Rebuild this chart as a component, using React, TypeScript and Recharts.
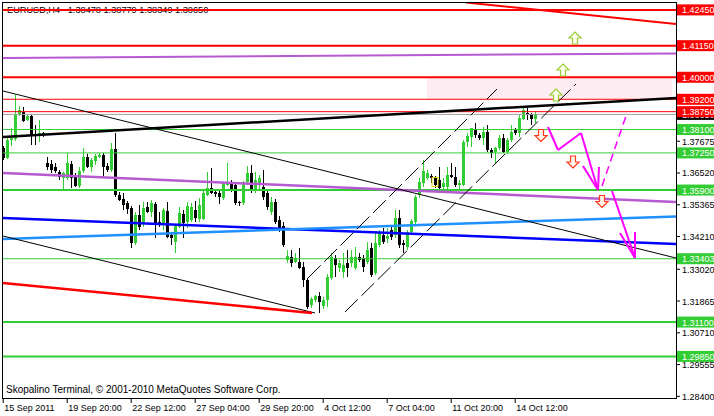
import { ComposedChart, Bar, XAxis, YAxis, ReferenceLine, ReferenceArea, ReferenceDot } from 'recharts';

// EURUSD H4 bars, index 0 = 15 Sep 2011 00:00
const opens = [
  1.3743, 1.3707, 1.3772, 1.3776, 1.3866, 1.3874, 1.3845, 1.3859, 1.3794, 1.3786,
  1.3797, 1.3688, 1.3685, 1.3674, 1.3656, 1.3634, 1.3634, 1.3685, 1.3637, 1.3605,
  1.3659, 1.3710, 1.3674, 1.3696, 1.3710, 1.3717, 1.3677, 1.3663, 1.3739, 1.3572,
  1.3558, 1.3543, 1.3525, 1.3397, 1.3499, 1.3474, 1.3528, 1.3510, 1.3539, 1.3474,
  1.3470, 1.3514, 1.3427, 1.3401, 1.3456, 1.3503, 1.3474, 1.3481, 1.3517, 1.3485,
  1.3485, 1.3572, 1.3597, 1.3583, 1.3579, 1.3561, 1.3608, 1.3619, 1.3608, 1.3547,
  1.3543, 1.3619, 1.3652, 1.3590, 1.3616, 1.3601, 1.3579, 1.3510, 1.3547, 1.3481,
  1.3459, 1.3336, 1.3347, 1.3328, 1.3328, 1.3310, 1.3263, 1.3172, 1.3190, 1.3205,
  1.3168, 1.3190, 1.3270, 1.3343, 1.3307, 1.3292, 1.3325, 1.3325, 1.3307, 1.3347,
  1.3343, 1.3328, 1.3379, 1.3288, 1.3390, 1.3427, 1.3412, 1.3445, 1.3427, 1.3488,
  1.3397, 1.3383, 1.3437, 1.3474, 1.3572, 1.3616, 1.3634, 1.3641, 1.3634, 1.3626,
  1.3601, 1.3601, 1.3645, 1.3637, 1.3608, 1.3608, 1.3765, 1.3783, 1.3812, 1.3790,
  1.3779, 1.3801, 1.3736, 1.3728, 1.3743, 1.3779, 1.3728, 1.3772, 1.3808, 1.3797,
  1.3848, 1.3870, 1.3866, 1.38478,
];
const highs = [
  1.3750, 1.3783, 1.3816, 1.3936, 1.3895, 1.3892, 1.3863, 1.3863, 1.3826, 1.3845,
  1.3801, 1.3710, 1.3699, 1.3688, 1.3663, 1.3656, 1.3725, 1.3696, 1.3652, 1.3674,
  1.3743, 1.3721, 1.3707, 1.3721, 1.3725, 1.3725, 1.3688, 1.3761, 1.3797, 1.3583,
  1.3579, 1.3550, 1.3532, 1.3510, 1.3536, 1.3547, 1.3547, 1.3554, 1.3547, 1.3510,
  1.3525, 1.3547, 1.3437, 1.3467, 1.3528, 1.3517, 1.3547, 1.3543, 1.3550, 1.3561,
  1.3590, 1.3656, 1.3670, 1.3590, 1.3594, 1.3619, 1.3688, 1.3626, 1.3619, 1.3550,
  1.3623, 1.3677, 1.3681, 1.3656, 1.3645, 1.3663, 1.3590, 1.3565, 1.3558, 1.3496,
  1.3474, 1.3372, 1.3372, 1.3361, 1.3379, 1.3328, 1.3270, 1.3201, 1.3208, 1.3219,
  1.3201, 1.3285, 1.3361, 1.3354, 1.3336, 1.3361, 1.3372, 1.3372, 1.3383, 1.3361,
  1.3354, 1.3401, 1.3397, 1.3434, 1.3445, 1.3452, 1.3452, 1.3459, 1.3517, 1.3517,
  1.3408, 1.3445, 1.3485, 1.3572, 1.3634, 1.3699, 1.3663, 1.3648, 1.3641, 1.3674,
  1.3634, 1.3674, 1.3688, 1.3674, 1.3626, 1.3772, 1.3797, 1.3816, 1.3834, 1.3797,
  1.3819, 1.3826, 1.3743, 1.3746, 1.3790, 1.3794, 1.3779, 1.3826, 1.3816, 1.3863,
  1.3892, 1.3888, 1.3870, 1.38779,
];
const lows = [
  1.3699, 1.3703, 1.3750, 1.3768, 1.3859, 1.3837, 1.3841, 1.3754, 1.3754, 1.3765,
  1.3783, 1.3663, 1.3652, 1.3652, 1.3626, 1.3587, 1.3626, 1.3597, 1.3601, 1.3597,
  1.3652, 1.3670, 1.3656, 1.3681, 1.3707, 1.3634, 1.3656, 1.3656, 1.3565, 1.3550,
  1.3517, 1.3503, 1.3379, 1.3390, 1.3445, 1.3456, 1.3507, 1.3492, 1.3416, 1.3456,
  1.3445, 1.3416, 1.3390, 1.3361, 1.3452, 1.3416, 1.3452, 1.3474, 1.3474, 1.3474,
  1.3481, 1.3568, 1.3576, 1.3565, 1.3539, 1.3554, 1.3605, 1.3583, 1.3536, 1.3532,
  1.3536, 1.3608, 1.3579, 1.3579, 1.3590, 1.3554, 1.3517, 1.3499, 1.3467, 1.3437,
  1.3383, 1.3325, 1.3310, 1.3325, 1.3303, 1.3237, 1.3157, 1.3161, 1.3183, 1.3143,
  1.3157, 1.3165, 1.3263, 1.3274, 1.3292, 1.3270, 1.3274, 1.3310, 1.3299, 1.3328,
  1.3292, 1.3321, 1.3274, 1.3281, 1.3383, 1.3394, 1.3397, 1.3408, 1.3416, 1.3379,
  1.3361, 1.3372, 1.3430, 1.3467, 1.3561, 1.3601, 1.3626, 1.3616, 1.3597, 1.3590,
  1.3590, 1.3590, 1.3634, 1.3601, 1.3590, 1.3605, 1.3746, 1.3746, 1.3779, 1.3772,
  1.3754, 1.3728, 1.3707, 1.3688, 1.3736, 1.3725, 1.3721, 1.3765, 1.3790, 1.3783,
  1.3845, 1.3845, 1.3826, 1.38349,
];
const closes = [
  1.3707, 1.3772, 1.3779, 1.3866, 1.3881, 1.3841, 1.3859, 1.3790, 1.3790, 1.3797,
  1.3790, 1.3674, 1.3663, 1.3659, 1.3637, 1.3652, 1.3688, 1.3634, 1.3605, 1.3659,
  1.3710, 1.3674, 1.3699, 1.3714, 1.3717, 1.3674, 1.3663, 1.3739, 1.3572, 1.3554,
  1.3536, 1.3521, 1.3397, 1.3499, 1.3456, 1.3525, 1.3510, 1.3543, 1.3470, 1.3470,
  1.3517, 1.3419, 1.3416, 1.3459, 1.3507, 1.3470, 1.3532, 1.3528, 1.3488, 1.3536,
  1.3579, 1.3597, 1.3579, 1.3576, 1.3565, 1.3616, 1.3619, 1.3590, 1.3543, 1.3543,
  1.3619, 1.3652, 1.3590, 1.3626, 1.3634, 1.3565, 1.3528, 1.3547, 1.3474, 1.3445,
  1.3390, 1.3350, 1.3325, 1.3343, 1.3307, 1.3263, 1.3165, 1.3194, 1.3205, 1.3183,
  1.3190, 1.3274, 1.3347, 1.3317, 1.3325, 1.3317, 1.3307, 1.3347, 1.3347, 1.3336,
  1.3310, 1.3372, 1.3281, 1.3397, 1.3434, 1.3401, 1.3423, 1.3419, 1.3488, 1.3390,
  1.3390, 1.3437, 1.3477, 1.3565, 1.3619, 1.3659, 1.3652, 1.3634, 1.3608, 1.3597,
  1.3616, 1.3645, 1.3637, 1.3608, 1.3616, 1.3765, 1.3786, 1.3816, 1.3790, 1.3779,
  1.3801, 1.3736, 1.3725, 1.3743, 1.3779, 1.3728, 1.3772, 1.3801, 1.3797, 1.3852,
  1.3881, 1.3863, 1.3848, 1.3865,
];

const timeTicks = [0, 16, 32, 48, 64, 80, 96, 112, 128];
const timeLabels = ['15 Sep 2011', '19 Sep 20:00', '22 Sep 12:00', '27 Sep 04:00', '29 Sep 20:00', '4 Oct 12:00', '7 Oct 04:00', '11 Oct 20:00', '14 Oct 12:00'];

const priceTicks = [1.284, 1.29555, 1.3071, 1.31865, 1.3302, 1.3421, 1.35365, 1.3652, 1.37675];
const bidPrice = 1.3865;
const redMajor = [1.4245, 1.4115, 1.4];
const redMinor = [1.392, 1.3875];
const greenMajor = [1.359, 1.311, 1.2985];
const greenMinor = [1.381, 1.3725, 1.33403];

// drawn objects, as [bar index, price] points
const fallingRed = [[115.7, 1.42719], [168.2, 1.41937]];
const maTop = [[-0.05, 1.40701], [168.2, 1.40865]];
const mainTrend = [[-0.05, 1.37829], [168.2, 1.39247]];
const longDown = [[-0.05, 1.39501], [168.2, 1.33429]];
const lowerDown = [[-0.05, 1.34229], [77.95, 1.31429]];
const redLow = [[-0.05, 1.3252], [77.2, 1.31429]];
const maMid = [[-0.05, 1.3652], [168.2, 1.35465]];
const maBlue = [[-0.05, 1.34884], [168.2, 1.33938]];
const maLightBlue = [[-0.05, 1.3412], [168.2, 1.34938]];
const channelUpper = [[76.2, 1.32702], [123.45, 1.39574]];
const channelLower = [[85.45, 1.31466], [143.2, 1.39756]];
const forecastLeg1 = [[136.2, 1.38192], [138.7, 1.37356], [144.45, 1.37974], [148.7, 1.35902]];
const forecastHead1 = [[144.95, 1.36774], [148.7, 1.35902], [148.95, 1.36738]];
const forecastLeg2 = [[152.2, 1.35865], [157.95, 1.33429]];
const forecastHead2 = [[154.2, 1.34338], [157.95, 1.33429], [157.95, 1.34374]];
const forecastAlt = [[149.7, 1.36047], [155.95, 1.38701]];
const buyArrows = [[142.95, 1.41428], [139.95, 1.40265], [138.2, 1.39356]];
const sellArrows = [[134.45, 1.37883], [142.45, 1.3692], [149.7, 1.35483]];
const entryMark = [[107.95, 1.36193]];
const zoneBars = [105.95, 167.2];
const zonePrices = [1.392, 1.4];

const candles = opens.map((open, i) => ({ i, open, high: highs[i], low: lows[i], close: closes[i] }));

const FONT = '"Liberation Sans", Arial, sans-serif';
const GREEN = '#32cd32';

function Candle(props: any) {
  const { x, y, width, height, payload } = props;
  const { open, close, high, low } = payload;
  const cx = Math.round(x + width / 2) + 0.5;
  const span = high - low || 1e-9;
  const py = (p: number) => y + ((high - p) / span) * height;
  const color = close >= open ? GREEN : '#000';
  const top = py(Math.max(open, close));
  const bot = py(Math.min(open, close));
  return (
    <g shapeRendering="crispEdges">
      <line x1={cx} x2={cx} y1={y} y2={y + height} stroke={color} />
      <rect x={cx - 1.5} y={top} width={3} height={Math.max(1, bot - top)} fill={color} />
    </g>
  );
}

function TimeTick({ x, y, payload }: any) {
  const label = timeLabels[timeTicks.indexOf(payload.value)];
  return (
    <g>
      <line x1={x} x2={x} y1={y} y2={y + 5} stroke="#000" />
      <text x={x + 1} y={y + 13} fontSize={9} fontFamily={FONT} fill="#000">{label}</text>
    </g>
  );
}

function PriceTick({ x, y, payload }: any) {
  const v = payload.value;
  let bg: string | null = null;
  if (redMajor.includes(v) || redMinor.includes(v)) bg = '#ff0000';
  else if (greenMajor.includes(v) || greenMinor.includes(v)) bg = GREEN;
  else if (v === bidPrice) bg = '#000';
  const label = v.toFixed(5);
  if (bg) {
    return (
      <g>
        <rect x={x + 1} y={y - 5.5} width={40} height={11} fill={bg} />
        <text x={x + 6} y={y + 3.5} fontSize={9} fontFamily={FONT} fill="#fff">{label}</text>
      </g>
    );
  }
  return (
    <g>
      <line x1={x} x2={x + 4} y1={y} y2={y} stroke="#000" />
      <text x={x + 6} y={y + 3.5} fontSize={9} fontFamily={FONT} fill="#000">{label}</text>
    </g>
  );
}

function UpArrow({ cx, cy }: any) {
  const d = `M${cx},${cy - 6} L${cx + 6},${cy} L${cx + 2.5},${cy} L${cx + 2.5},${cy + 6} L${cx - 2.5},${cy + 6} L${cx - 2.5},${cy} L${cx - 6},${cy} Z`;
  return <path d={d} fill="#fffff0" stroke="#9acd32" strokeWidth={1.2} />;
}

function DownArrow({ cx, cy }: any) {
  const d = `M${cx},${cy + 6} L${cx + 6},${cy} L${cx + 2.5},${cy} L${cx + 2.5},${cy - 6} L${cx - 2.5},${cy - 6} L${cx - 2.5},${cy} L${cx - 6},${cy} Z`;
  return <path d={d} fill="#fff4ec" stroke="#ff3a1a" strokeWidth={1.2} />;
}

function EntryBox({ cx, cy }: any) {
  return <rect x={cx - 3} y={cy - 4.5} width={6} height={9} fill="none" stroke="#e0d000" strokeWidth={1} />;
}

// consecutive segments through the axis scales
function segs(points: number[][], key: string, stroke: string, width: number, dash?: string) {
  const out = [];
  for (let k = 1; k < points.length; k++) {
    out.push(
      <ReferenceLine
        key={`${key}-${k}`}
        segment={[{ x: points[k - 1][0], y: points[k - 1][1] }, { x: points[k][0], y: points[k][1] }]}
        stroke={stroke}
        strokeWidth={width}
        strokeDasharray={dash}
        ifOverflow="hidden"
      />
    );
  }
  return out;
}

function levels(values: number[], key: string, stroke: string, width: number) {
  return values.map((v) => <ReferenceLine key={`${key}-${v}`} y={v} stroke={stroke} strokeWidth={width} ifOverflow="hidden" />);
}

export default function App() {
  return (
    <div style={{ position: 'absolute', left: 0, top: 0, width: 714, height: 416, background: '#fff', overflow: 'hidden' }}>
      <div style={{ position: 'absolute', left: 7, top: 5, fontSize: 9.2, lineHeight: '10px', fontFamily: FONT, whiteSpace: 'pre', color: '#000' }}>
        {'EURUSD,H4   1.38478 1.38779 1.38349 1.38650'}
      </div>
      <div style={{ position: 'absolute', left: 6, top: 385, fontSize: 10, lineHeight: '10px', fontFamily: FONT, whiteSpace: 'pre', color: '#000' }}>
        {'Skopalino Terminal, © 2001-2010 MetaQuotes Software Corp.'}
      </div>
      <div style={{ position: 'absolute', left: 0, top: 0 }}>
        <ComposedChart width={714} height={416} data={candles} margin={{ top: 2, right: 0, bottom: 0, left: 3 }}>
          <XAxis
            dataKey="i"
            type="number"
            domain={[-0.05, 168.2]}
            allowDataOverflow
            ticks={timeTicks}
            interval={0}
            tick={<TimeTick />}
            tickSize={0}
            tickMargin={0}
            axisLine={false}
            height={18}
          />
          <YAxis
            orientation="right"
            type="number"
            domain={[1.28339, 1.42737]}
            allowDataOverflow
            ticks={[...priceTicks, bidPrice, ...greenMinor, ...greenMajor, ...redMinor, ...redMajor]}
            interval={0}
            tick={<PriceTick />}
            tickSize={0}
            tickMargin={0}
            axisLine={false}
            width={38}
          />
          <ReferenceArea x1={zoneBars[0]} x2={zoneBars[1]} y1={zonePrices[0]} y2={zonePrices[1]} fill="#fdedf2" fillOpacity={1} stroke="none" />
          {levels(redMajor, 'rM', '#ff0000', 2)}
          {levels(redMinor, 'rm', '#ff0000', 1)}
          <ReferenceLine y={bidPrice} stroke="#a0a0a0" strokeWidth={1} />
          {levels(greenMajor, 'gM', GREEN, 2)}
          {levels(greenMinor, 'gm', GREEN, 1)}
          <Bar dataKey={(d: any) => [d.low, d.high]} barSize={3} shape={<Candle />} isAnimationActive={false} />
          {segs(fallingRed, 'fr', '#ff0000', 2)}
          {segs(maTop, 'mt', '#b65ad2', 2)}
          {segs(maMid, 'mm', '#b65ad2', 2.5)}
          {segs(maBlue, 'mb', '#0000ff', 2.5)}
          {segs(maLightBlue, 'ml', '#1e90ff', 2.5)}
          {segs(mainTrend, 'tr', '#000', 2.5)}
          {segs(longDown, 'ld', '#000', 1)}
          {segs(lowerDown, 'lw', '#000', 1)}
          {segs(redLow, 'rl', '#ff0000', 2.5)}
          {segs(channelUpper, 'cu', '#000', 1, '18 5')}
          {segs(channelLower, 'cl', '#000', 1, '18 5')}
          {segs(forecastLeg1, 'f1', '#ff00ff', 2)}
          {segs(forecastHead1, 'h1', '#ff00ff', 2)}
          {segs(forecastLeg2, 'f2', '#ff00ff', 2)}
          {segs(forecastHead2, 'h2', '#ff00ff', 2)}
          {segs(forecastAlt, 'fa', '#ff00ff', 1.5, '8 5')}
          {buyArrows.map((p, k) => (
            <ReferenceDot key={`b${k}`} x={p[0]} y={p[1]} r={6} shape={(s: any) => <UpArrow cx={s.cx} cy={s.cy} />} />
          ))}
          {sellArrows.map((p, k) => (
            <ReferenceDot key={`s${k}`} x={p[0]} y={p[1]} r={6} shape={(s: any) => <DownArrow cx={s.cx} cy={s.cy} />} />
          ))}
          {entryMark.map((p, k) => (
            <ReferenceDot key={`e${k}`} x={p[0]} y={p[1]} r={4} shape={(s: any) => <EntryBox cx={s.cx} cy={s.cy} />} />
          ))}
        </ComposedChart>
      </div>
      <div style={{ position: 'absolute', left: 2, top: 2, width: 675, height: 397, border: '1px solid #000', boxSizing: 'border-box', pointerEvents: 'none' }} />
    </div>
  );
}
